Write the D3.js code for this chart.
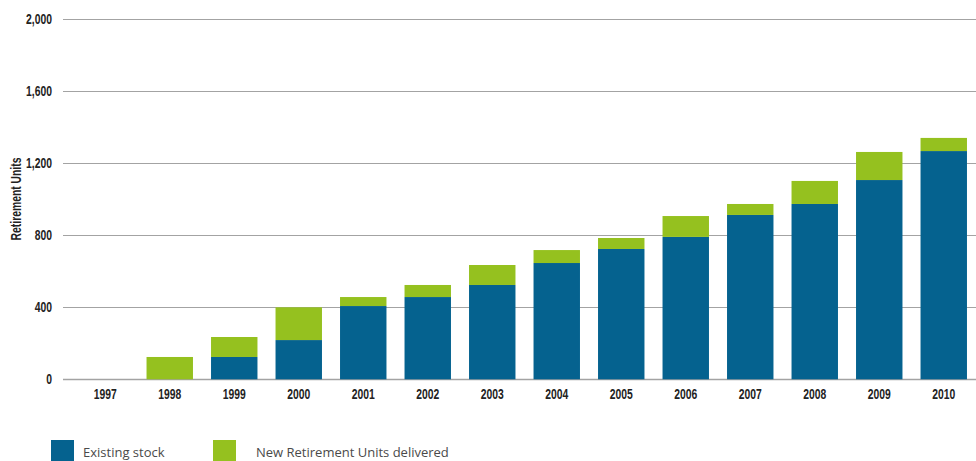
<!DOCTYPE html>
<html>
<head>
<meta charset="utf-8">
<script src="https://cdn.jsdelivr.net/npm/d3@7"></script>
<style>
  html, body { margin: 0; padding: 0; background: #fff; }
  svg { display: block; }
  .tick-label { font-family: "Liberation Sans", Arial, sans-serif; font-weight: bold; font-size: 14px; fill: #222; }
  .legend-label { font-family: "Open Sans", sans-serif; font-size: 13px; fill: #4a4a4a; }
</style>
</head>
<body>
<svg id="chart" width="976" height="461"></svg>
<script>
// Retirement units per year, split into existing stock and newly delivered units
const years = ["1997", "1998", "1999", "2000", "2001", "2002", "2003", "2004", "2005", "2006", "2007", "2008", "2009", "2010"];
const existingStock = [0, 0, 124, 218, 407, 457, 524, 646, 724, 791, 913, 974, 1107, 1268];
const newDelivered = [0, 124, 111, 182, 50, 67, 111, 72, 61, 116, 61, 128, 156, 73];
const yTicks = [0, 400, 800, 1200, 1600, 2000];
const seriesNames = ["Existing stock", "New Retirement Units delivered"];
const seriesColors = ["#05628f", "#95c11f"];

// Condensed look for the axis lettering
const squeeze = 0.74;

const svg = d3.select("#chart");

const x = d3.scaleBand()
  .domain(years)
  .range([73, 976])
  .paddingInner(0.28)
  .paddingOuter(0.14);

const y = d3.scaleLinear()
  .domain([0, 2000])
  .range([379.3, 19.3]);

// Horizontal gridlines with tick labels
const grid = svg.append("g");
grid.selectAll("line")
  .data(yTicks)
  .join("line")
  .attr("x1", 63)
  .attr("x2", 976)
  .attr("y1", d => Math.round(y(d)) + 0.5)
  .attr("y2", d => Math.round(y(d)) + 0.5)
  .attr("stroke", "#a3a3a3")
  .attr("stroke-width", d => d === 0 ? 1.5 : 1);

grid.selectAll("text")
  .data(yTicks)
  .join("text")
  .attr("class", "tick-label")
  .attr("transform", d => `translate(52,${y(d)}) scale(${squeeze},1)`)
  .attr("dy", "0.35em")
  .attr("text-anchor", "end")
  .text(d => d3.format(",")(d));

// Stacked bars
const rows = years.map((yr, i) => ({ year: yr, existing: existingStock[i], delivered: newDelivered[i] }));
const stack = d3.stack().keys(["existing", "delivered"]);
const layers = stack(rows);

svg.append("g")
  .selectAll("g")
  .data(layers)
  .join("g")
  .attr("fill", (d, i) => seriesColors[i])
  .selectAll("rect")
  .data(d => d)
  .join("rect")
  .attr("x", d => x(d.data.year))
  .attr("width", x.bandwidth())
  .attr("y", d => y(d[1]))
  .attr("height", d => Math.max(0, y(d[0]) - y(d[1])));

// Year labels
svg.append("g")
  .selectAll("text")
  .data(years)
  .join("text")
  .attr("class", "tick-label")
  .attr("transform", d => `translate(${x(d) + x.bandwidth() / 2},399) scale(${squeeze},1)`)
  .attr("text-anchor", "middle")
  .text(d => d);

// Y axis title
svg.append("text")
  .attr("class", "tick-label")
  .attr("transform", `translate(21,199) rotate(-90) scale(${squeeze},1)`)
  .attr("text-anchor", "middle")
  .text("Retirement Units");

// Legend
const legendX = [51, 213];
const legend = svg.append("g");
const items = legend.selectAll("g")
  .data(seriesNames)
  .join("g")
  .attr("transform", (d, i) => `translate(${legendX[i]},440)`);
items.append("rect")
  .attr("width", 23)
  .attr("height", 22)
  .attr("fill", (d, i) => seriesColors[i]);
items.append("text")
  .attr("class", "legend-label")
  .attr("x", (d, i) => i === 0 ? 32 : 43)
  .attr("y", 17)
  .text(d => d);
</script>
</body>
</html>
